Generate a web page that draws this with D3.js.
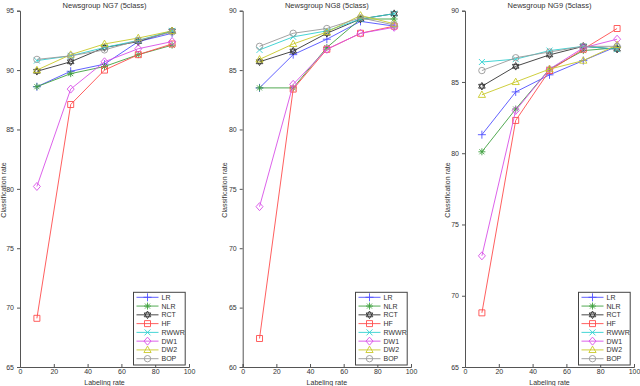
<!DOCTYPE html>
<html><head><meta charset="utf-8">
<script src="https://cdn.jsdelivr.net/npm/d3@7"></script>
<style>body{margin:0;background:#fff}svg{display:block}text{font-family:"Liberation Sans",Arial,sans-serif;fill:#333}</style>
</head><body>
<svg id="c" width="640" height="386"></svg>
<script>
const labelingRates = [10, 30, 50, 70, 90];
const methods = ["LR", "NLR", "RCT", "HF", "RWWR", "DW1", "DW2", "BOP"];
const colors = ["#5050ff", "#40a040", "#333333", "#ff4d4d", "#30d0d0", "#d850e8", "#c8c828", "#999999"];
const markers = ["plus", "star", "hex", "square", "x", "diamond", "triangle", "circle"];
const titles = ["Newsgroup NG7 (5class)", "Newsgroup NG8 (5class)", "Newsgroup NG9 (5class)"];
// values per method in order LR, NLR, RCT, HF, RWWR, DW1, DW2, BOP
const ng7 = [
  [88.6, 89.9, 90.5, 92.4, 93.1],
  [88.6, 89.7, 90.3, 91.3, 92.1],
  [89.9, 90.7, 91.9, 92.4, 93.3],
  [69.1, 87.1, 90.0, 91.3, 92.2],
  [90.8, 91.2, 91.9, 92.5, 93.3],
  [80.2, 88.4, 90.7, 91.8, 92.4],
  [90.0, 91.3, 92.2, 92.7, 93.3],
  [90.9, 91.2, 91.7, 92.5, 93.2]
];
const ng8 = [
  [83.5, 86.3, 87.6, 89.1, 88.7],
  [83.5, 83.5, 86.9, 89.3, 89.3],
  [85.7, 86.6, 88.1, 89.3, 89.75],
  [62.4, 83.4, 86.75, 88.1, 88.7],
  [86.7, 87.8, 88.3, 89.3, 89.75],
  [73.5, 83.8, 86.75, 88.1, 88.6],
  [85.9, 87.2, 88.2, 89.6, 88.9],
  [87.0, 88.1, 88.5, 89.4, 88.8]
];
const ng9 = [
  [81.3, 84.3, 85.5, 86.5, 87.5],
  [80.1, 83.1, 85.9, 87.2, 87.4],
  [84.7, 86.1, 86.9, 87.5, 87.3],
  [68.8, 82.3, 85.8, 87.3, 88.75],
  [86.4, 86.6, 87.2, 87.5, 87.3],
  [72.8, 83.0, 85.9, 87.4, 88.0],
  [84.1, 85.0, 85.9, 86.5, 87.6],
  [85.8, 86.7, 87.1, 87.5, 87.5]
];
const yDomains = [[65, 95], [60, 90], [65, 90]];
const xTicks = [0, 20, 40, 60, 80, 100];

const datasets = [ng7, ng8, ng9];
const panelX = [[20, 189], [242.7, 411], [465, 634]];
const plotTop = 10.7, plotBottom = 367;
const svg = d3.select("#c");
const fs = 7;

function markerPath(type) {
  const p = d3.path();
  switch (type) {
    case "plus": p.moveTo(-4,0); p.lineTo(4,0); p.moveTo(0,-4); p.lineTo(0,4); break;
    case "x": p.moveTo(-3,-3); p.lineTo(3,3); p.moveTo(-3,3); p.lineTo(3,-3); break;
    case "star":
      p.moveTo(-3.5,0); p.lineTo(3.5,0); p.moveTo(0,-3.5); p.lineTo(0,3.5);
      p.moveTo(-2.5,-2.5); p.lineTo(2.5,2.5); p.moveTo(-2.5,2.5); p.lineTo(2.5,-2.5); break;
    case "square": p.rect(-3,-3,6,6); break;
    case "diamond": p.moveTo(0,-4); p.lineTo(3.5,0); p.lineTo(0,4); p.lineTo(-3.5,0); p.closePath(); break;
    case "triangle": p.moveTo(0,-3.8); p.lineTo(3.6,2.6); p.lineTo(-3.6,2.6); p.closePath(); break;
    case "circle": p.arc(0,0,3.2,0,2*Math.PI); break;
    case "hex": {
      const r = 3.8;
      for (let k = 0; k < 2; k++) {
        for (let i = 0; i < 3; i++) {
          const a = -Math.PI/2 + k*Math.PI + i*2*Math.PI/3;
          if (i === 0) p.moveTo(r*Math.cos(a), r*Math.sin(a)); else p.lineTo(r*Math.cos(a), r*Math.sin(a));
        }
        p.closePath();
      }
      break;
    }
  }
  return p.toString();
}

datasets.forEach((data, pi) => {
  const x = d3.scaleLinear().domain([0, 100]).range(panelX[pi]);
  const y = d3.scaleLinear().domain(yDomains[pi]).range([plotBottom, plotTop]);
  const g = svg.append("g");

  const yAxis = d3.axisLeft(y).tickValues(d3.range(yDomains[pi][0], yDomains[pi][1] + 0.1, 5)).tickSize(3).tickPadding(3);
  const gy = g.append("g").attr("transform", `translate(${panelX[pi][0]},0)`).call(yAxis);
  const xAxis = d3.axisBottom(x).tickValues(xTicks).tickSize(-3).tickPadding(2);
  const gx = g.append("g").attr("transform", `translate(0,${plotBottom})`).call(xAxis);
  [gx, gy].forEach(a => {
    a.select(".domain").attr("stroke", "#555").attr("stroke-width", 1);
    a.selectAll(".tick line").attr("stroke", "#555");
    a.selectAll("text").attr("font-size", fs).attr("fill", "#333").attr("font-family", "Liberation Sans, Arial, sans-serif");
  });

  const cx = (panelX[pi][0] + panelX[pi][1]) / 2;
  g.append("text").attr("x", cx).attr("y", 8).attr("text-anchor", "middle").attr("font-size", 7.5).text(titles[pi]);
  g.append("text").attr("x", cx).attr("y", 384.5).attr("text-anchor", "middle").attr("font-size", fs).text("Labeling rate");
  const lx = panelX[pi][0] - 15.5;
  g.append("text").attr("transform", `translate(${pi === 0 ? 6 : lx},190) rotate(-90)`).attr("text-anchor", "middle").attr("font-size", fs).text("Classification rate");

  const line = d3.line().x((d, i) => x(labelingRates[i])).y(d => y(d));
  data.forEach((vals, mi) => {
    g.append("path").attr("d", line(vals)).attr("fill", "none").attr("stroke", colors[mi]).attr("stroke-width", 0.9);
    g.selectAll(null).data(vals).enter().append("path")
      .attr("transform", (d, i) => `translate(${x(labelingRates[i])},${y(d)})`)
      .attr("d", markerPath(markers[mi])).attr("fill", "none").attr("stroke", colors[mi]).attr("stroke-width", 0.9);
  });

  const lgX = panelX[pi][1] - 55.5, lgY = 292.3;
  const lg = g.append("g").attr("transform", `translate(${lgX},${lgY})`);
  lg.append("rect").attr("width", 51.7).attr("height", 72.7).attr("fill", "#fff").attr("stroke", "#444").attr("stroke-width", 1);
  methods.forEach((m, mi) => {
    const ry = 5 + mi * 8.77;
    lg.append("line").attr("x1", 3).attr("x2", 25).attr("y1", ry).attr("y2", ry).attr("stroke", colors[mi]).attr("stroke-width", 0.9);
    lg.append("path").attr("transform", `translate(14,${ry})`).attr("d", markerPath(markers[mi])).attr("fill", "none").attr("stroke", colors[mi]).attr("stroke-width", 0.9);
    lg.append("text").attr("x", 28).attr("y", ry + 2.5).attr("font-size", fs).text(m);
  });
});
</script>
</body></html>
